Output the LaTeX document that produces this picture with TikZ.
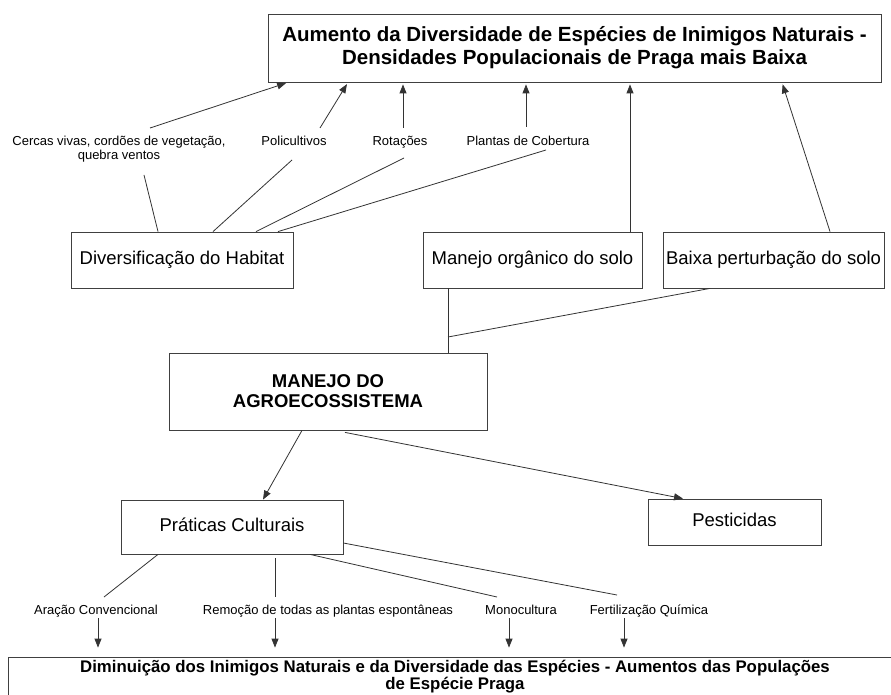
\documentclass[tikz,border=0pt]{standalone}
\usepackage{fontspec}
\setmainfont{Liberation Sans}
\usetikzlibrary{arrows.meta}
\tikzset{
  box/.style={draw=black!75, line width=0.8pt, rectangle, inner sep=0pt, align=center, fill=white},
  lab2/.style={font=\fontsize{13}{14}\selectfont, inner sep=0pt, align=center},
  lab/.style={lab2, text height=9.5pt, text depth=3pt},
  midtext/.style={font=\fontsize{18.5}{21}\selectfont, text height=13.5pt, text depth=4pt},
  con/.style={draw=black!80, line width=0.8pt},
  arr/.style={con, -{Triangle[length=9pt,width=7pt]}}
}
\begin{document}
\begin{tikzpicture}[x=1pt,y=-1pt]
\useasboundingbox[fill=white] (0,0) rectangle (891,695);
% boxes
\node[box, minimum width=613, minimum height=68, font=\fontsize{20.5}{23}\selectfont\bfseries] (top) at (574.5,48) {Aumento da Diversidade de Espécies de Inimigos Naturais -\\Densidades Populacionais de Praga mais Baixa};
\node[box, midtext, minimum width=222, minimum height=56] (div) at (182,260) {Diversificação do Habitat};
\node[box, midtext, minimum width=219, minimum height=56] (mos) at (532.5,260) {Manejo orgânico do solo};
\node[box, midtext, minimum width=221, minimum height=56] (bps) at (773.5,260) {Baixa perturbação do solo};
\node[box, minimum width=318, minimum height=77, font=\fontsize{18.5}{20}\selectfont\bfseries] (mag) at (328,391.5) {MANEJO DO\\AGROECOSSISTEMA};
\node[box, midtext, minimum width=222, minimum height=54] (pc) at (232,527) {Práticas Culturais};
\node[box, midtext, minimum width=173, minimum height=46] (pest) at (734.5,522) {Pesticidas};
\node[box, minimum width=894, minimum height=60] (bot) at (455,687) {};
\node[font=\fontsize{16.8}{17}\selectfont\bfseries, align=center, inner sep=0pt] (bottxt) at (455,676.5) {Diminuição dos Inimigos Naturais e da Diversidade das Espécies - Aumentos das Populações\\de Espécie Praga};
% labels
\node[lab2] (cer) at (119,149) {Cercas vivas, cordões de vegetação,\\quebra ventos};
\node[lab] (pol) at (294,142) {Policultivos};
\node[lab] (rot) at (400,142) {Rotações};
\node[lab] (pla) at (528,142) {Plantas de Cobertura};
\node[lab] (ara) at (96,611) {Aração Convencional};
\node[lab] (rem) at (328,611) {Remoção de todas as plantas espontâneas};
\node[lab] (mon) at (521,611) {Monocultura};
\node[lab] (fer) at (649,611) {Fertilização Química};
% free ends
\coordinate (cerB) at (144,175);
\coordinate (cerT) at (150,128);
\coordinate (polB) at (292,160);
\coordinate (polT) at (320,128);
\coordinate (rotB) at (404,158);
\coordinate (rotT) at (403,128);
\coordinate (plaB) at (546,150);
\coordinate (plaT) at (526,127);
\coordinate (jun) at (448,337);
\coordinate (araT) at (104,597);
\coordinate (remT) at (275,597);
\coordinate (monT) at (497,597);
\coordinate (ferT) at (617,595);
\coordinate (araB) at (98,618);
\coordinate (remB) at (275,618);
\coordinate (monB) at (509,618);
\coordinate (ferB) at (624,618);
% habitat lines
\draw[con] (div.north -| 158,0) -- (cerB);
\draw[con] (div.north -| 213,0) -- (polB);
\draw[con] (div.north -| 256,0) -- (rotB);
\draw[con] (div.north -| 278,0) -- (plaB);
% arrows to top
\draw[arr, shorten >=2pt] (cerT) -- (top.south -| 288,0);
\draw[arr, shorten >=2pt] (polT) -- (top.south -| 348,0);
\draw[arr, shorten >=2pt] (rotT) -- (top.south -| 403,0);
\draw[arr, shorten >=2pt] (plaT) -- (top.south -| 526,0);
\draw[arr, shorten >=2pt] (mos.north -| 630,0) -- (top.south -| 630,0);
\draw[arr, shorten >=2pt] (bps.north -| 830,0) -- (top.south -| 782,0);
% soil to manejo
\draw[con] (mos.south -| 448,0) -- (mag.north -| 448,0);
\draw[con] (bps.south -| 710,0) -- (jun);
% manejo down
\draw[arr] (mag.south -| 302,0) -- (pc.north -| 263,0);
\draw[arr] ([yshift=-2pt]mag.south -| 345,0) -- (pest.north -| 683,0);
% practices
\draw[con] (pc.south -| 158,0) -- (araT);
\draw[con] ([yshift=-4pt]pc.south -| 275,0) -- (remT);
\draw[con] (pc.south -| 310,0) -- (monT);
\draw[con] (pc.east |- 0,543) -- (ferT);
\draw[arr, shorten >=9pt] (araB) -- (bot.north -| 98,0);
\draw[arr, shorten >=9pt] (remB) -- (bot.north -| 275,0);
\draw[arr, shorten >=9pt] (monB) -- (bot.north -| 509,0);
\draw[arr, shorten >=9pt] (ferB) -- (bot.north -| 624,0);
\end{tikzpicture}
\end{document}
